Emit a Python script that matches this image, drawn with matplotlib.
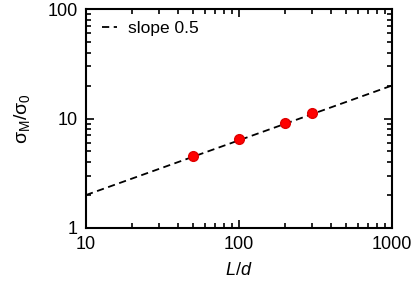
import numpy as np
import matplotlib
matplotlib.use("Agg")
from matplotlib import pyplot as plt

plt.rcParams['font.family'] = ['Liberation Sans', 'DejaVu Sans']
plt.rcParams['mathtext.fontset'] = 'custom'
plt.rcParams['mathtext.rm'] = 'Liberation Sans'
plt.rcParams['mathtext.it'] = 'Liberation Sans:italic'

# data
ld = [50, 100, 200, 300]
sigma_ratio = [4.55, 6.45, 9.15, 11.2]
fit_x = [10, 1000]
slope = 0.5
fit_y = [2 * (v / 10) ** slope for v in fit_x]

fig = plt.figure(figsize=(4.16, 2.84), dpi=100)
ax = fig.add_axes([86 / 416, 56 / 284, 306 / 416, 219 / 284])

ax.plot(fit_x, fit_y, 'k--', lw=1.3, dashes=(4, 2.5), label='slope 0.5')
ax.plot(ld, sigma_ratio, 'o', color='#ff0000', ms=7, mec='#e00000')

ax.set_xscale('log')
ax.set_yscale('log')
ax.set_xlim(10, 1000)
ax.set_ylim(1, 100)
ax.set_xticks([10, 100, 1000])
ax.set_xticklabels(['10', '100', '1000'])
ax.set_yticks([1, 10, 100])
ax.set_yticklabels(['1', '10', '100'])

for s in ax.spines.values():
    s.set_linewidth(1.5)
ax.tick_params(which='both', direction='in', top=True, right=True, labelsize=13, width=1.2)
ax.tick_params(which='major', length=6, pad=6)
ax.tick_params(which='minor', length=3.5)

ax.set_xlabel('$\\mathit{L/d}$', fontsize=13, labelpad=6)
ax.set_ylabel('$\\mathregular{\\sigma_M/\\sigma_0}$', fontsize=14, labelpad=11)

ax.legend(loc='upper left', frameon=False, fontsize=12.5, handlelength=0.9,
          handletextpad=0.6, borderaxespad=0.3, bbox_to_anchor=(0.012, 1.0))

fig.savefig('out.png', dpi=100)
